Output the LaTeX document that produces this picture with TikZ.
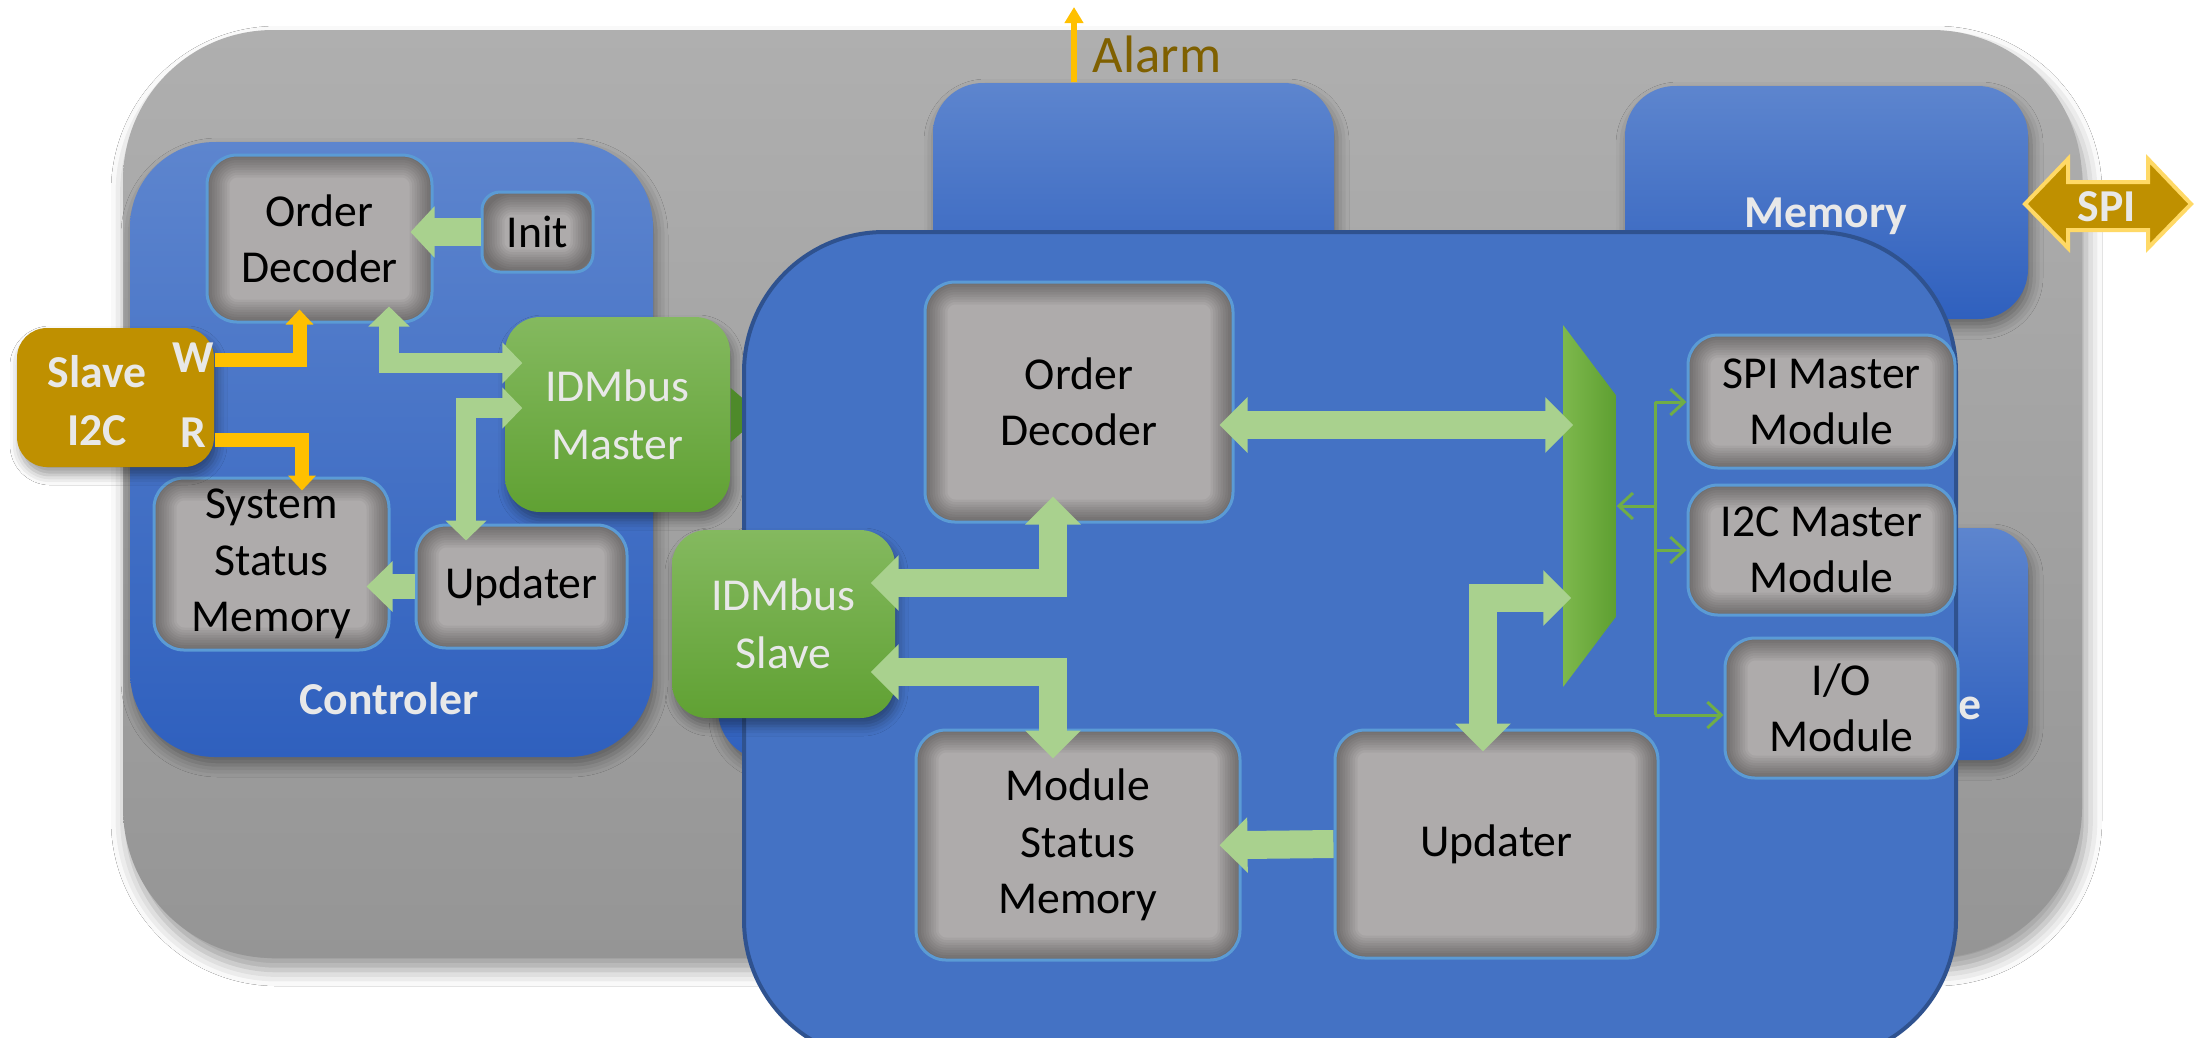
\documentclass[tikz,border=0pt]{standalone}
\usepackage{fontspec}
\setmainfont{Carlito}
\usetikzlibrary{arrows.meta,shadows.blur}

\definecolor{panelTop}{HTML}{AFAFAF}
\definecolor{panelBot}{HTML}{959595}
\definecolor{blueTop}{HTML}{5D85CE}
\definecolor{blueBot}{HTML}{2F60BE}
\definecolor{blueMain}{HTML}{4472C4}
\definecolor{blueEdge}{HTML}{2F528F}
\definecolor{cellGray}{HTML}{AEABAB}
\definecolor{cellEdge}{HTML}{5B9BD5}
\definecolor{greenTop}{HTML}{84B95F}
\definecolor{greenBot}{HTML}{60A133}
\definecolor{greenDark}{HTML}{4E8A2A}
\definecolor{muxLeft}{HTML}{7DB84C}
\definecolor{muxRight}{HTML}{5E9F31}
\definecolor{arrowGreen}{HTML}{A9D18E}
\definecolor{linkGreen}{HTML}{70AD47}
\definecolor{gold}{HTML}{BF9000}
\definecolor{amber}{HTML}{FFC000}
\definecolor{spiEdge}{HTML}{FFD966}
\definecolor{alarmText}{HTML}{7F6000}
\definecolor{labelText}{HTML}{E8E8E8}

\newcommand\cellfont{\fontsize{13}{16}\selectfont}
\newcommand\labelfont{\fontsize{13}{16.5}\selectfont}

\begin{document}
\begin{tikzpicture}[x=0.1mm, y=-0.1mm,
        panel/.style={rounded corners=15mm, top color=panelTop, bottom color=panelBot,
            blur shadow={shadow xshift=0.4mm, shadow yshift=-1.2mm, shadow blur radius=1.6mm}},
        block/.style={rounded corners=#1, top color=blueTop, bottom color=blueBot, inner sep=0pt,
            blur shadow={shadow xshift=0.3mm, shadow yshift=-0.8mm, shadow blur radius=1.2mm}},
        block/.default=5mm,
        lbl/.style={text=labelText, font=\labelfont\bfseries, inner sep=0pt, align=center},
        cell/.style={rounded corners=3mm, fill=cellGray, draw=cellEdge, line width=0.3mm,
            inner sep=1mm, align=center, font=\cellfont,
            path picture={
                \foreach \w in {0.5,1,...,4.5}
                    \draw[line width=\w mm, black, opacity=0.045, rounded corners=3mm]
                        (path picture bounding box.south west) rectangle (path picture bounding box.north east);
            }},
        bus/.style={rounded corners=3.5mm, top color=greenTop, bottom color=greenBot, inner sep=1mm,
            align=center, text=labelText, font=\labelfont,
            blur shadow={shadow xshift=0.3mm, shadow yshift=-0.8mm, shadow blur radius=1mm}},
        goldbox/.style={rounded corners=3mm, fill=gold, inner sep=0pt,
            blur shadow={shadow xshift=0.3mm, shadow yshift=-0.8mm, shadow blur radius=1mm}},
        flow/.style={draw=arrowGreen, line width=2.8mm, line join=miter,
            -{Triangle[width=5.4mm, length=2.8mm]}},
        flow both/.style={flow, {Triangle[width=5.4mm, length=2.8mm]}-{Triangle[width=5.4mm, length=2.8mm]}},
        small flow/.style={draw=arrowGreen, line width=2mm, line join=miter,
            {Triangle[width=4mm, length=2mm]}-{Triangle[width=4mm, length=2mm]}},
        pin/.style={draw=amber, line width=1.4mm, line join=miter,
            -{Triangle[width=2.7mm, length=1.5mm]}},
        link/.style={draw=linkGreen, line width=0.3mm, -{Straight Barb[length=1.4mm, width=2.6mm]}}
    ]
    \path[fill=white, use as bounding box] (0,0) rectangle (2203,1037);

    % System board
    \node[panel, minimum width=195.9mm, minimum height=92.8mm] (board) at (1102.5,494) {};

    % Controler
    \node[block=8.5mm, minimum width=52.3mm, minimum height=61.5mm] (ctrl) at (391.5,449.5) {};
    \node[lbl] (ctrllbl) at (389,699) {Controler};

    % Blocks behind the module
    \node[block, minimum width=40.1mm, minimum height=24.7mm] (topblk) at (1133.5,206.5) {};
    \node[block, minimum width=40.3mm, minimum height=23.3mm] (mem) at (1826.5,202.5) {};
    \node[lbl] (memlbl) at (1826,216) {Memory};
    \node[block=4mm, minimum width=32.8mm, minimum height=23.2mm] (ifc) at (1864,644) {};
    \node[lbl] (ifclbl) at (1970,708) {e};
    \node[block, minimum width=23.2mm, minimum height=23.5mm] (lowblk) at (834,642.5) {};

    % Alarm and SPI
    \coordinate (alarmtip) at (1074,7);
    \draw[draw=amber, line width=0.6mm, -{Triangle[width=1.8mm, length=1.6mm]}]
        (topblk.north -| alarmtip) -- (alarmtip);
    \node[text=alarmText, font=\fontsize{15}{18}\selectfont, inner sep=0pt] (alarm) at (1157,54) {Alarm};
    \filldraw[fill=gold, draw=spiEdge, line width=0.4mm]
        (2025,204) -- (2068,159) -- (2068,182) -- (2148,182) -- (2148,159) -- (2191,204)
        -- (2148,248) -- (2148,230) -- (2068,230) -- (2068,248) -- cycle;
    \node[lbl] (spi) at (2107,207) {SPI};

    % IDMbus Master
    \node[bus, minimum width=22.5mm, minimum height=19.5mm] (mst) at (617.5,414.5) {IDMbus\\Master};
    \fill[greenDark] ([yshift=2.65mm]mst.east) -- ++(14,12) -- ++(0,30) -- ++(-14,12) -- cycle;

    % Module
    \node[fill=blueMain, draw=blueEdge, line width=0.4mm, rounded corners=14mm,
        minimum width=121.2mm, minimum height=82.8mm] (module) at (1350,646) {};

    \node[cell, minimum width=30.8mm, minimum height=24mm] (od) at (1079,402) {Order\\Decoder};
    \node[bus, minimum width=22.3mm, minimum height=18.8mm] (slv) at (783.5,624) {IDMbus\\Slave};
    \node[cell, minimum width=32.4mm, minimum height=23mm] (msm) at (1078,845) {Module\\Status\\Memory};
    \node[cell, minimum width=32.3mm, minimum height=22.8mm] (upd) at (1496.5,844) {Updater};
    \node[cell, minimum width=26.7mm, minimum height=13.3mm] (spim) at (1821.5,401.5) {SPI Master\\Module};
    \node[cell, minimum width=26.7mm, minimum height=13mm] (i2cm) at (1821.5,550) {I2C Master\\Module};
    \node[cell, minimum width=23.3mm, minimum height=14mm] (iom) at (1841.5,708) {I/O\\Module};

    % Mux
    \node[inner sep=0pt, minimum width=5.2mm, minimum height=36mm] (mux) at (1590,506) {};
    \shade[left color=muxLeft, right color=muxRight] (mux.north west) -- ([yshift=-7.1mm]mux.north east)
        -- ([yshift=7.1mm]mux.south east) -- (mux.south west) -- cycle;

    % Module arrows
    \coordinate (odR) at ([yshift=-2.3mm]od.east);
    \draw[flow both, shorten <=-1.5mm, shorten >=-1mm] (odR) -- (odR -| mux.west);
    \draw[flow both, shorten <=-2.5mm, shorten >=-2.7mm] ([yshift=4.1mm]slv.east) -| ([xshift=-2.6mm]od.south);
    \draw[flow both, shorten <=-2.5mm, shorten >=-3mm] ([yshift=-4.8mm]slv.east) -| ([xshift=-2.5mm]msm.north);
    \draw[flow both, shorten <=-2.3mm, shorten >=-0.8mm] ([xshift=-1.35mm]upd.north) |- ([yshift=-9.2mm]mux.west);
    \draw[flow, shorten >=-2.2mm] (upd.west) -- (msm.east);

    % Module links
    \coordinate (busT) at (1655,402);
    \coordinate (busB) at (1655,715);
    \draw[link, -] (busT) -- (busB);
    \draw[link] (busT) -- (busT -| spim.west);
    \draw[link] (busT |- i2cm) -- (i2cm.west);
    \draw[link] (busB) -- (busB -| iom.west);
    \draw[link] (busT |- mux) -- (mux.east);

    % Controler parts
    \node[cell, minimum width=22.5mm, minimum height=16.7mm] (cod) at (319.5,238.5) {Order\\Decoder};
    \node[cell, rounded corners=1.8mm, minimum width=11.1mm, minimum height=8mm] (init) at (537.5,232) {Init};
    \node[cell, minimum width=23.5mm, minimum height=17.2mm] (ssm) at (271.5,564) {System\\Status\\Memory};
    \node[cell, minimum width=21.1mm, minimum height=12.3mm] (cupd) at (521.5,586.5) {Updater};

    \draw[flow, -{Triangle[width=5mm, length=2.4mm]}, shorten >=-2.3mm] (init.west) -- (init.west -| cod.east);
    \draw[small flow, shorten <=-1.7mm, shorten >=-1.8mm] ([xshift=6.95mm]cod.south) |- ([yshift=5.15mm]mst.west);
    \draw[small flow, shorten <=-1.8mm, shorten >=-1.7mm] ([yshift=0.65mm]mst.west) -| ([xshift=-5.55mm]cupd.north);
    \draw[flow, line width=2.5mm, -{Triangle[width=4.9mm, length=2.6mm]}, shorten >=-2.4mm] (cupd.west) -- (cupd.west -| ssm.east);

    % Slave I2C
    \node[goldbox, minimum width=19.7mm, minimum height=13.9mm] (i2c) at (115.5,397.5) {};
    \node[lbl] (i2clbl) at (97,401) {Slave\\I2C};
    \node[lbl] (wpin) at (193,358) {W};
    \node[lbl] (rpin) at (193,433) {R};
    \draw[pin, shorten >=-1.4mm] ([yshift=3.75mm]i2c.east) -| ([xshift=-2mm]cod.south);
    \draw[pin, shorten >=-1.4mm] ([yshift=-4.25mm]i2c.east) -| ([xshift=3.05mm]ssm.north);
\end{tikzpicture}
\end{document}
